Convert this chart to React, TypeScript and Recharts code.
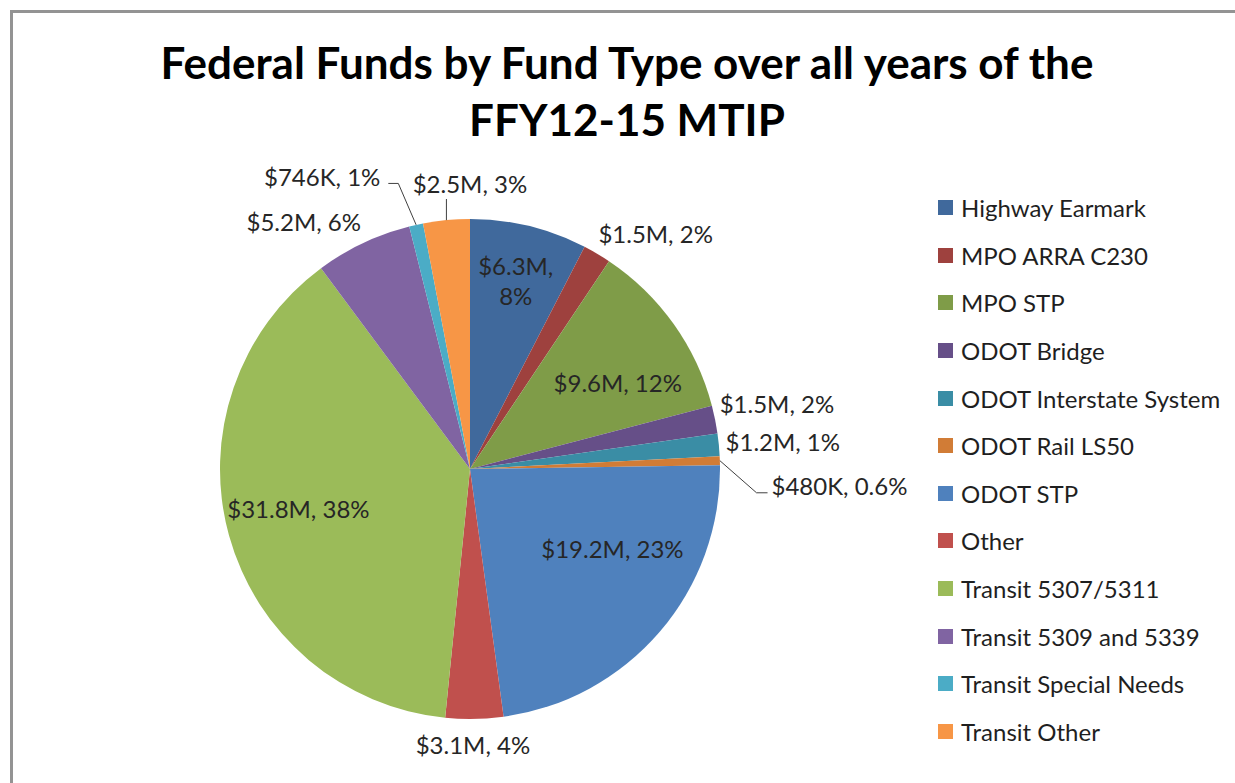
import { PieChart, Pie, Cell, Legend } from "recharts";

// fund types, in the order Excel stacks them clockwise from 12 o'clock
const fundTypes = [
  "Highway Earmark",
  "MPO ARRA C230",
  "MPO STP",
  "ODOT Bridge",
  "ODOT Interstate System",
  "ODOT Rail LS50",
  "ODOT STP",
  "Other",
  "Transit 5307/5311",
  "Transit 5309 and 5339",
  "Transit Special Needs",
  "Transit Other"
];

// federal funds, $ millions
const fundMillions = [6.3, 1.5, 9.6, 1.5, 1.2, 0.48, 19.2, 3.1, 31.8, 5.2, 0.746, 2.5];

const amountLabels = ["$6.3M", "$1.5M", "$9.6M", "$1.5M", "$1.2M", "$480K", "$19.2M", "$3.1M", "$31.8M", "$5.2M", "$746K", "$2.5M"];
const shareLabels = ["8%", "2%", "12%", "2%", "1%", "0.6%", "23%", "4%", "38%", "6%", "1%", "3%"];

const sliceColors = [
  "#40699C", "#9E413E", "#7F9C48", "#664F88", "#3A8DA5", "#D17C36",
  "#4F81BD", "#C0504D", "#9BBB59", "#8064A2", "#4BACC6", "#F79646"
];

// label placement: distance from centre, turn off the slice's mid angle (deg), text anchor
const labelRadius = [194, 268, 171, 258, 257, 302, 163, 276, 176, 270, 306, 286];
const labelTurn = [0, -1.9, 5.2, -3.2, -0.5, 5.1, -11.6, 0.4, 2.6, 1.5, -4.6, 5.4];
const labelAnchor = ["middle", "start", "middle", "start", "start", "start", "middle", "middle", "middle", "end", "end", "middle"];

const pieData = fundTypes.map((name, i) => ({ name, value: fundMillions[i] }));

const FONT = "Lato, 'Open Sans', sans-serif";
const RAD = Math.PI / 180;

function renderLabel(props: any) {
  const { cx, cy, midAngle, outerRadius, index } = props;
  const mid = 90 - midAngle;
  const theta = (mid + labelTurn[index]) * RAD;
  const r = labelRadius[index];
  const x = cx + r * Math.sin(theta);
  const y = cy - r * Math.cos(theta);
  const ex = cx + outerRadius * Math.sin(mid * RAD);
  const ey = cy - outerRadius * Math.cos(mid * RAD);

  let leader: string | null = null;
  if (index === 5) {
    leader = `${ex},${ey} ${x - 15},${y + 7} ${x - 4},${y + 7}`;
  }
  if (index === 10) {
    leader = `${ex},${ey} ${x + 18},${y + 7} ${x + 8},${y + 7}`;
  }
  if (index === 11) {
    leader = `${ex},${ey} ${ex},${y + 16}`;
  }

  const textProps = {
    x,
    y,
    textAnchor: labelAnchor[index] as any,
    dominantBaseline: "central" as any,
    fill: "#262626",
    fontSize: 24,
    fontFamily: FONT
  };

  return (
    <g key={"lbl" + index}>
      {leader && (
        <polyline points={leader} fill="none" stroke="#404040" strokeWidth={1} />
      )}
      {index === 0 ? (
        <text {...textProps}>
          <tspan x={x} dy={-15}>{amountLabels[index] + ","}</tspan>
          <tspan x={x} dy={30}>{shareLabels[index]}</tspan>
        </text>
      ) : (
        <text {...textProps}>{amountLabels[index] + ", " + shareLabels[index]}</text>
      )}
    </g>
  );
}

// legend keeps the series order (Recharts would sort it by name)
function renderLegend() {
  return (
    <div style={{ fontFamily: FONT, fontSize: 24, color: "#1f1f1f" }}>
      {fundTypes.map((name, i) => (
        <div
          key={"leg" + i}
          style={{ height: 47.6, display: "flex", alignItems: "center", whiteSpace: "nowrap" }}
        >
          <span
            style={{
              width: 15,
              height: 15,
              background: sliceColors[i],
              marginRight: 8,
              display: "inline-block"
            }}
          />
          {name}
        </div>
      ))}
    </div>
  );
}

export default function App() {
  return (
    <div
      style={{
        position: "absolute",
        left: 0,
        top: 0,
        width: 1235,
        height: 783,
        overflow: "hidden",
        background: "#fff"
      }}
    >
      <div
        style={{
          position: "absolute",
          left: 10,
          top: 10,
          width: 1400,
          height: 900,
          border: "3px solid #939393"
        }}
      />

      <div
        style={{
          position: "absolute",
          left: 27,
          top: 34,
          width: 1200,
          textAlign: "center",
          fontFamily: FONT,
          fontWeight: 700,
          fontSize: 44,
          lineHeight: "57px",
          color: "#000"
        }}
      >
        Federal Funds by Fund Type over all years of the
        <br />
        FFY12-15 MTIP
      </div>

      <div style={{ position: "absolute", left: 0, top: 0 }}>
        <PieChart width={1235} height={783} margin={{ top: 0, right: 0, bottom: 0, left: 0 }}>
          <Pie
            data={pieData}
            dataKey="value"
            nameKey="name"
            cx={470}
            cy={469}
            outerRadius={250}
            startAngle={90}
            endAngle={-270}
            stroke="none"
            labelLine={false}
            label={renderLabel}
            isAnimationActive={false}
          >
            {pieData.map((d, i) => (
              <Cell key={d.name} fill={sliceColors[i]} />
            ))}
          </Pie>
          <Legend
            layout="vertical"
            align="right"
            verticalAlign="top"
            content={renderLegend}
            wrapperStyle={{ left: 938, top: 184, width: 297, right: "auto" }}
          />
        </PieChart>
      </div>
    </div>
  );
}
